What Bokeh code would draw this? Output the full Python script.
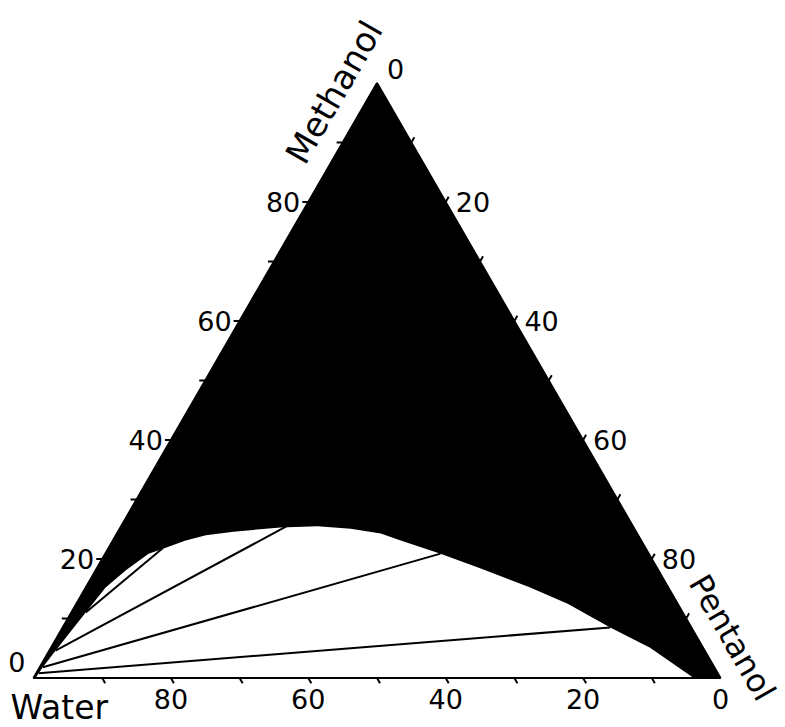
import numpy as np
from bokeh.plotting import figure
from bokeh.models import Range1d
from bokeh.embed import file_html
from bokeh.resources import INLINE
from bokeh.core.properties import value

# ---------------- data (mass %) ----------------
binodal_methanol = [0.0, 0.8, 1.8, 4.6, 11.0, 15.2, 18.1, 20.9, 21.9, 23.1, 24.0, 24.6,
                    25.3, 25.5, 25.1, 24.3, 23.1, 20.9, 18.4, 15.2, 12.5, 8.5, 5.1, 0.0]
binodal_pentanol = [0.3, 0.35, 0.45, 0.9, 2.1, 2.9, 4.4, 6.3, 8.3, 10.6, 13.1, 16.8,
                    23.3, 28.6, 33.6, 38.4, 41.9, 48.8, 55.9, 64.7, 71.5, 79.7, 87.2, 96.1]

tie_left_methanol = [11.0, 4.6, 1.8, 0.8]
tie_left_pentanol = [2.1, 0.9, 0.45, 0.35]
tie_right_methanol = [21.8, 25.6, 20.9, 8.5]
tie_right_pentanol = [7.9, 24.2, 48.8, 79.7]

minor_ticks = [10, 20, 30, 40, 50, 60, 70, 80, 90]
tick_labels = [0, 20, 40, 60, 80]

axis_titles = ["Water", "Methanol", "Pentanol"]

# ---------------- helpers ----------------
SQ = np.sqrt(3) / 2


def tern(meth, pent):
    m = np.asarray(meth, dtype=float) / 100.0
    pe = np.asarray(pent, dtype=float) / 100.0
    return pe + m / 2.0, m * SQ


# layout (pixels)
W, H = 785, 727
S = 687.0            # px per unit side
X0, Y0 = 33.0, 49.5  # water vertex offset from plot left / bottom
FONT = value("DejaVu Sans")


def px(xp, yp):
    """screen pixel position -> data coords (for label anchors only)"""
    return (xp - X0) / S, ((H - Y0) - yp) / S


p = figure(width=W, height=H, output_backend="svg", toolbar_location=None,
           x_range=Range1d(-X0 / S, (W - X0) / S),
           y_range=Range1d(-Y0 / S, (H - Y0) / S),
           x_axis_location=None, y_axis_location=None, min_border=0)
p.grid.visible = False
p.outline_line_color = None
p.background_fill_color = "white"
p.border_fill_color = "white"

# triangle (single phase region, black)
tx, ty = tern([0, 0, 100], [0, 100, 0])
p.patch(list(tx), list(ty), fill_color="black", line_color="black", line_width=2)

# two-phase region (white)
bx, by = tern(binodal_methanol, binodal_pentanol)
p.patch(list(bx), list(by), fill_color="white", line_color=None)

# bottom edge
p.line(list(tx[:2]), list(ty[:2]), line_color="black", line_width=2.2)

# tie lines
lx, ly = tern(tie_left_methanol, tie_left_pentanol)
rx, ry = tern(tie_right_methanol, tie_right_pentanol)
p.multi_line([[a, b] for a, b in zip(lx, rx)], [[a, b] for a, b in zip(ly, ry)],
             line_color="black", line_width=2)

# ticks
L = 6.0 / S
xs, ys = [], []
for v in minor_ticks:
    x, y = tern(0, 100 - v)          # bottom (water = v)
    xs.append([float(x), float(x + L * 0.5)]); ys.append([float(y), float(y - L * SQ)])
    x, y = tern(v, 0)                # left (methanol = v)
    xs.append([float(x), float(x - L)]); ys.append([float(y), float(y)])
    x, y = tern(100 - v, v)          # right (pentanol = v)
    xs.append([float(x), float(x + L * 0.5)]); ys.append([float(y), float(y + L * SQ)])
p.multi_line(xs, ys, line_color="black", line_width=2)

# tick labels
TFS = "27px"
for v in tick_labels:
    x, y = tern(0, 100 - v)
    p.text([float(x)], [float(y)], text=[str(v)], text_align="center", text_baseline="middle",
           y_offset=21, text_font=FONT, text_font_size=TFS, text_color="black")
    x, y = tern(v, 0)
    p.text([float(x)], [float(y)], text=[str(v)], text_align="right", text_baseline="middle",
           x_offset=-8, y_offset=(-16 if v == 0 else 0),
           text_font=FONT, text_font_size=TFS, text_color="black")
    x, y = tern(100 - v, v)
    p.text([float(x)], [float(y)], text=[str(v)], text_align="left", text_baseline="middle",
           x_offset=10, y_offset=(-14 if v == 0 else 0),
           text_font=FONT, text_font_size=TFS, text_color="black")

# axis titles (anchored at left-middle)
anchors = [px(10, 707), px(294, 160), px(697, 577)]
title_angle = [0.0, np.pi / 3, -np.pi / 3]
title_size = ["33px", "34px", "32px"]
for t, (x, y), a, fs in zip(axis_titles, anchors, title_angle, title_size):
    p.text([x], [y], text=[t], angle=a, text_align="left", text_baseline="middle",
           text_font=FONT, text_font_size=fs, text_color="black")

open("out.html", "w").write(file_html(p, INLINE))
